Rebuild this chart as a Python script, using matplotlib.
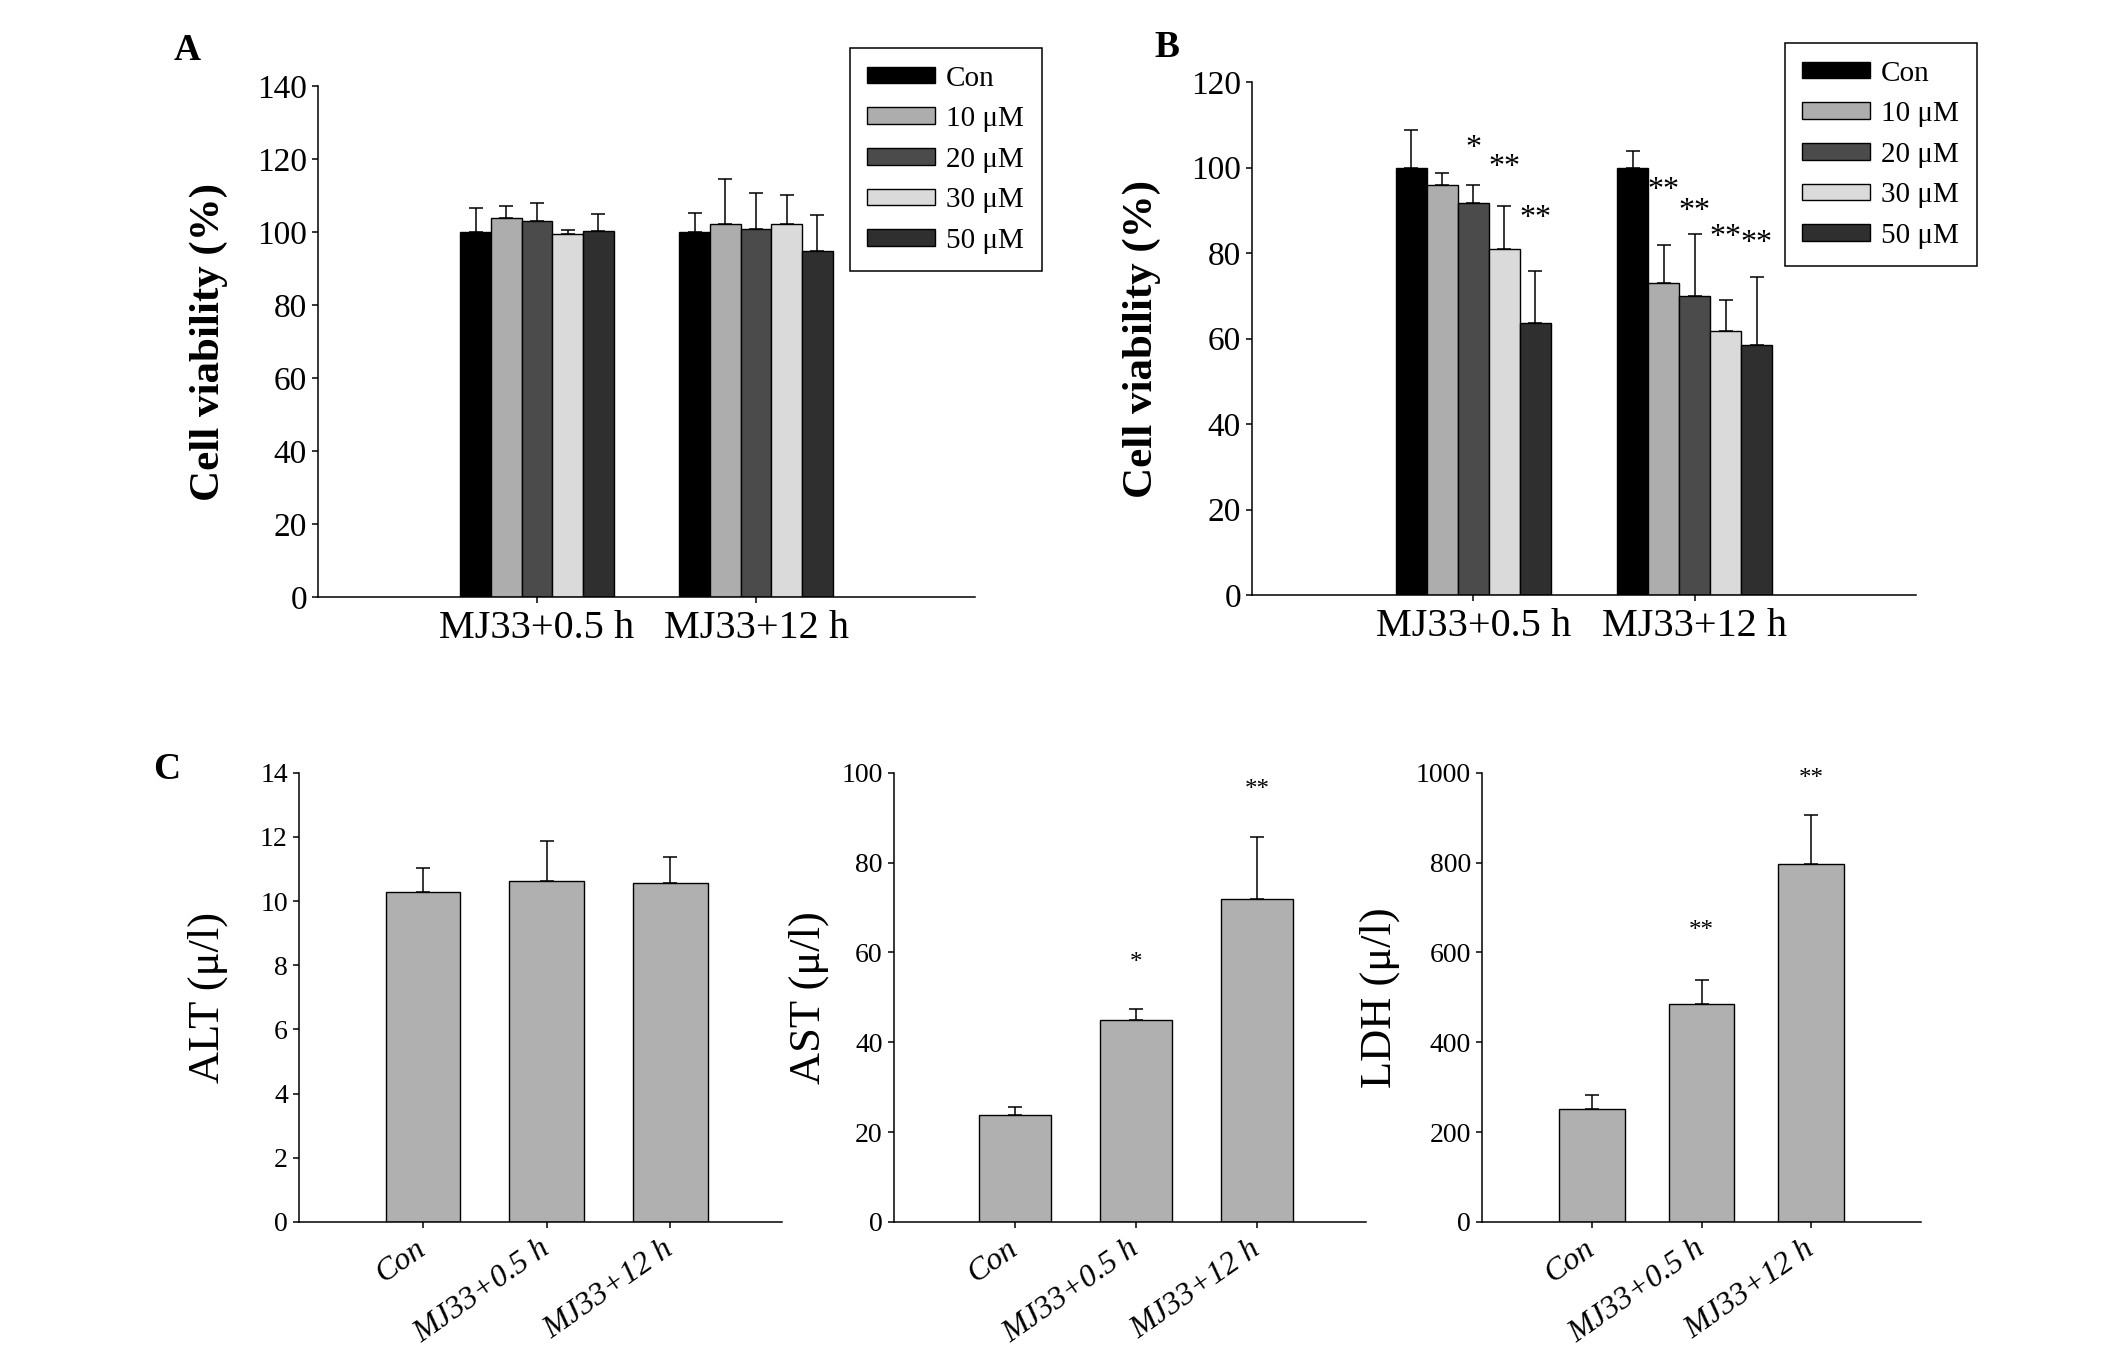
import matplotlib.pyplot as plt
import numpy as np

plt.rcParams['font.family'] = ['Liberation Serif', 'DejaVu Serif']

# Daten
gruppen = ["MJ33+0.5 h", "MJ33+12 h"]
dosen = ["Con", "10 μM", "20 μM", "30 μM", "50 μM"]
farben = ["#000000", "#adadad", "#4b4b4b", "#dadada", "#2f2f2f"]

a_werte = [[100.0, 103.9, 103.0, 99.5, 100.2],
           [100.0, 102.2, 100.9, 102.2, 94.8]]
a_fehler = [[6.5, 3.1, 5.0, 1.0, 4.7],
            [5.1, 12.2, 9.8, 8.0, 9.9]]

b_werte = [[100.0, 95.9, 91.6, 81.0, 63.7],
           [100.0, 73.1, 69.9, 61.8, 58.5]]
b_fehler = [[8.9, 2.9, 4.4, 10.0, 12.1],
            [3.8, 8.7, 14.5, 7.2, 15.8]]
b_sterne = [["", "", "*", "**", "**"],
            ["", "**", "**", "**", "**"]]
b_stern_y = [[0, 0, 106.0, 101.7, 89.7],
             [0, 96.4, 91.4, 85.4, 84.0]]

c_gruppen = ["Con", "MJ33+0.5 h", "MJ33+12 h"]
alt_werte = [10.30, 10.64, 10.58]
alt_fehler = [0.72, 1.24, 0.80]
ast_werte = [23.8, 44.9, 71.8]
ast_fehler = [1.7, 2.5, 14.0]
ast_sterne = ["", "*", "**"]
ast_stern_y = [0, 58.9, 97.4]
ldh_werte = [252, 485, 797]
ldh_fehler = [30, 54, 108]
ldh_sterne = ["", "**", "**"]
ldh_stern_y = [0, 661, 998]


def achsen_stil(ax):
    for s in ["top", "right"]:
        ax.spines[s].set_visible(False)
    for s in ["left", "bottom"]:
        ax.spines[s].set_linewidth(1.1)
    ax.tick_params(direction="out", length=4.5, width=1.1)


def stern(ax, x, y, s, groesse):
    # Sternchen sitzen hoch in der Schrift, daher etwas nach unten versetzt
    ax.annotate(s, (x, y), xytext=(0, -0.22 * groesse), textcoords="offset points",
                ha="center", va="center", fontsize=groesse)


fig = plt.figure(figsize=(21.26, 13.57), dpi=100)

# Panel A und B
def gruppen_plot(ax, werte, fehler, yticks, legend_pos):
    x = np.arange(1, len(gruppen) + 1)
    breite = 0.14
    for i, dosis in enumerate(dosen):
        w = [werte[g][i] for g in range(len(gruppen))]
        f = [fehler[g][i] for g in range(len(gruppen))]
        pos = x + (i - 2) * breite
        ax.bar(pos, w, breite, color=farben[i], edgecolor="black",
               linewidth=1.0, label=dosis, zorder=2)
        ax.errorbar(pos, w, yerr=[np.zeros(len(w)), f], fmt="none",
                    ecolor="black", elinewidth=1.1, capsize=5, capthick=1.1,
                    zorder=1)
    ax.set_xlim(0, 3)
    ax.set_ylim(0, yticks[-1])
    ax.set_yticks(yticks)
    ax.set_xticks(x)
    ax.set_xticklabels(gruppen, fontsize=29)
    ax.tick_params(axis="y", labelsize=24)
    ax.tick_params(axis="x", pad=5)
    ax.set_ylabel("Cell viability (%)", fontsize=31, fontweight="bold")
    ax.yaxis.set_label_coords(-0.137, 0.5)
    achsen_stil(ax)
    ax.legend(loc="upper left", bbox_to_anchor=legend_pos,
              bbox_transform=fig.transFigure, borderaxespad=0,
              fontsize=21, frameon=True, fancybox=False, framealpha=1,
              edgecolor="black", handlelength=2.3, handleheight=0.5,
              handletextpad=0.4, labelspacing=0.5, borderpad=0.6)
    ax.get_legend().get_frame().set_linewidth(1.1)
    return x, breite


ax_a = fig.add_axes([0.1496, 0.5600, 0.3090, 0.3766])
gruppen_plot(ax_a, a_werte, a_fehler, np.arange(0, 141, 20), (0.3998, 0.9646))

ax_b = fig.add_axes([0.5889, 0.5615, 0.3123, 0.3780])
x_b, breite_b = gruppen_plot(ax_b, b_werte, b_fehler, np.arange(0, 121, 20),
                             (0.8396, 0.9683))
for g in range(len(gruppen)):
    for i in range(len(dosen)):
        if b_sterne[g][i]:
            stern(ax_b, x_b[g] + (i - 2) * breite_b, b_stern_y[g][i],
                  b_sterne[g][i], 23)

# Panel C
def balken_plot(ax, werte, fehler, ylim, ystep, ylabel, xmax, label_x,
                sterne=None, stern_y=None):
    x = np.arange(1, len(c_gruppen) + 1)
    ax.bar(x, werte, 0.6, color="#b0b0b0", edgecolor="black",
           linewidth=1.0, zorder=2)
    ax.errorbar(x, werte, yerr=[np.zeros(len(werte)), fehler], fmt="none",
                ecolor="black", elinewidth=1.1, capsize=5, capthick=1.1,
                zorder=1)
    if sterne:
        for xi, s, sy in zip(x, sterne, stern_y):
            if s:
                stern(ax, xi, sy, s, 18)
    ax.set_xlim(0, xmax)
    ax.set_ylim(0, ylim)
    ax.set_yticks(np.arange(0, ylim + 1, ystep))
    ax.set_xticks(x)
    ax.set_xticklabels(c_gruppen, fontsize=23, style="italic", rotation=35,
                       ha="right", va="center", rotation_mode="anchor")
    ax.tick_params(axis="y", labelsize=20)
    ax.tick_params(axis="x", pad=13)
    ax.set_ylabel(ylabel, fontsize=32)
    ax.yaxis.set_label_coords(label_x, 0.5)
    achsen_stil(ax)


ax_alt = fig.add_axes([0.1406, 0.0995, 0.2272, 0.3310])
balken_plot(ax_alt, alt_werte, alt_fehler, 14, 2, "ALT (μ/l)", 3.9, -0.147)

ax_ast = fig.add_axes([0.4205, 0.0995, 0.2220, 0.3310])
balken_plot(ax_ast, ast_werte, ast_fehler, 100, 20, "AST (μ/l)", 3.9, -0.138,
            ast_sterne, ast_stern_y)

ax_ldh = fig.add_axes([0.6971, 0.0995, 0.2065, 0.3310])
balken_plot(ax_ldh, ldh_werte, ldh_fehler, 1000, 200, "LDH (μ/l)", 4.0, -0.187,
            ldh_sterne, ldh_stern_y)

# Panelbuchstaben
fig.text(0.088, 0.963, "A", fontsize=27, fontweight="bold", ha="center", va="center")
fig.text(0.549, 0.965, "B", fontsize=27, fontweight="bold", ha="center", va="center")
fig.text(0.0786, 0.4326, "C", fontsize=27, fontweight="bold", ha="center", va="center")

fig.savefig("out.png", dpi=100)
